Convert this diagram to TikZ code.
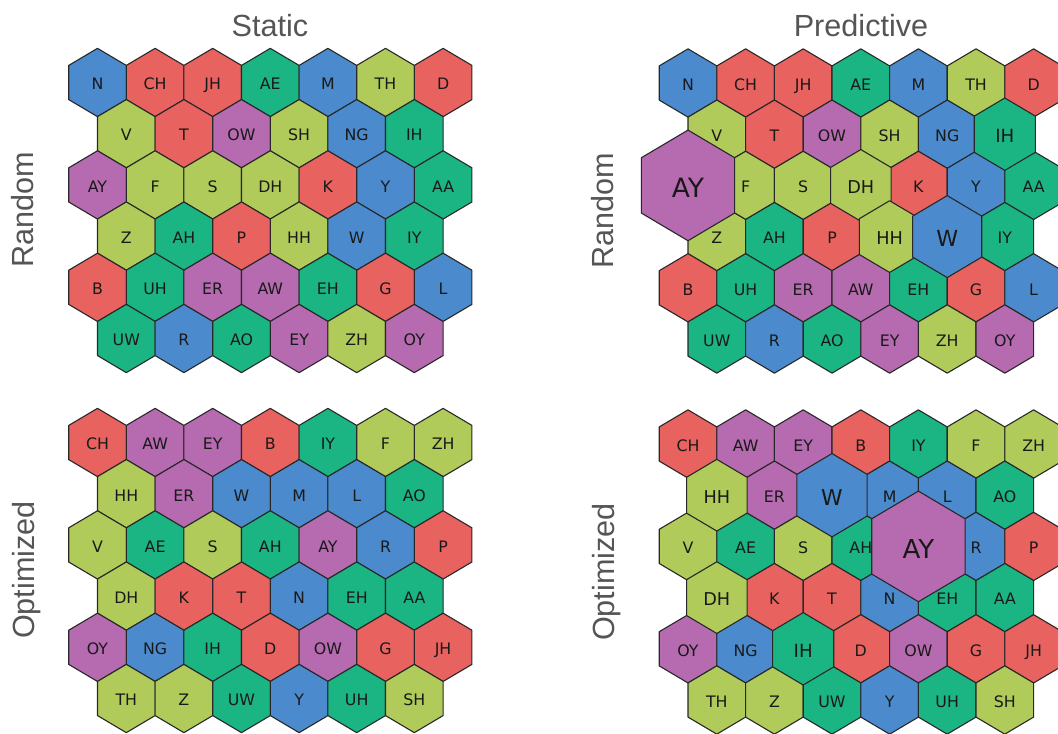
\documentclass[tikz,border=0pt]{standalone}
\usepackage{fontspec}
\setmainfont{DejaVu Sans}
\newfontfamily\titlefont{Liberation Sans}

\definecolor{hblue}{RGB}{75,139,205}
\definecolor{hred}{RGB}{232,98,95}
\definecolor{hgreen}{RGB}{27,181,132}
\definecolor{hlime}{RGB}{177,203,90}
\definecolor{hpurple}{RGB}{182,107,176}
\definecolor{edge}{RGB}{40,40,40}
\definecolor{titlegray}{RGB}{85,85,85}

% one colour per phoneme
\colorlet{cN}{hblue}\colorlet{cM}{hblue}\colorlet{cNG}{hblue}\colorlet{cY}{hblue}
\colorlet{cW}{hblue}\colorlet{cL}{hblue}\colorlet{cR}{hblue}
\colorlet{cCH}{hred}\colorlet{cJH}{hred}\colorlet{cD}{hred}\colorlet{cT}{hred}
\colorlet{cK}{hred}\colorlet{cP}{hred}\colorlet{cB}{hred}\colorlet{cG}{hred}
\colorlet{cAE}{hgreen}\colorlet{cIH}{hgreen}\colorlet{cAA}{hgreen}\colorlet{cAH}{hgreen}
\colorlet{cIY}{hgreen}\colorlet{cUH}{hgreen}\colorlet{cEH}{hgreen}\colorlet{cUW}{hgreen}
\colorlet{cAO}{hgreen}
\colorlet{cTH}{hlime}\colorlet{cV}{hlime}\colorlet{cSH}{hlime}\colorlet{cF}{hlime}
\colorlet{cS}{hlime}\colorlet{cDH}{hlime}\colorlet{cZ}{hlime}\colorlet{cHH}{hlime}
\colorlet{cZH}{hlime}
\colorlet{cOW}{hpurple}\colorlet{cAY}{hpurple}\colorlet{cER}{hpurple}
\colorlet{cAW}{hpurple}\colorlet{cEY}{hpurple}\colorlet{cOY}{hpurple}

\tikzset{
  cell/.style={draw=edge, line width=0.55pt, line join=round},
  lab/.style={font=\fontsize{7.9}{9}\selectfont, text=black!90, inner sep=0pt,
    text height=0.73em, text depth=0pt},
  heading/.style={font=\titlefont\fontsize{15.3}{18}\selectfont, text=titlegray,
    anchor=base, inner sep=0pt},
}

% grid, phoneme, cell size, text size
\newcommand{\hexcell}[4]{%
  \draw[cell, fill=c#2, shift={(#1-#2-c)}, scale=#3]
    (0,-34.15) -- (28.8,-17.08) -- (28.8,17.08) -- (0,34.15)
    -- (-28.8,17.08) -- (-28.8,-17.08) -- cycle;
  \node[lab, scale=#4] (#1-#2) at (#1-#2-c) {#2};
}

% cells that are drawn later, grown
\newcommand{\markbig}[2]{\expandafter\def\csname big-#1-#2\endcsname{1}}
\markbig{pr}{DH}\markbig{pr}{HH}\markbig{pr}{IH}\markbig{pr}{W}\markbig{pr}{AY}
\markbig{po}{DH}\markbig{po}{HH}\markbig{po}{IH}\markbig{po}{W}\markbig{po}{AY}

% grid, origin x, origin y, rows
\newcommand{\hexgrid}[4]{%
  \foreach \row [count=\r from 0] in #4 {
    \foreach \ph [count=\c from 0] in \row {
      \pgfmathsetmacro{\cx}{#2 + 57.6*\c + 28.8*mod(\r,2)}
      \pgfmathsetmacro{\cy}{#3 + 51.2*\r}
      \coordinate (#1-\ph-c) at (\cx,\cy);
      \ifcsname big-#1-\ph\endcsname\else
        \hexcell{#1}{\ph}{1}{1}
      \fi
    }
  }
}

\newcommand{\randomrows}{{N,CH,JH,AE,M,TH,D},{V,T,OW,SH,NG,IH},{AY,F,S,DH,K,Y,AA},%
  {Z,AH,P,HH,W,IY},{B,UH,ER,AW,EH,G,L},{UW,R,AO,EY,ZH,OY}}
\newcommand{\optrows}{{CH,AW,EY,B,IY,F,ZH},{HH,ER,W,M,L,AO},{V,AE,S,AH,AY,R,P},%
  {DH,K,T,N,EH,AA},{OY,NG,IH,D,OW,G,JH},{TH,Z,UW,Y,UH,SH}}

\begin{document}
\begin{tikzpicture}[x=0.5pt, y=-0.5pt]
  \useasboundingbox (0,0) rectangle (1058,733);
  \clip (0,0) rectangle (1058,733);

  \node[heading] (static) at (270,37) {Static};
  \node[heading] (predictive) at (861,37) {Predictive};
  \node[heading, rotate=90] (random-l) at (33.5,210) {Random};
  \node[heading, rotate=90] (optimized-l) at (34.5,570) {Optimized};
  \node[heading, rotate=90] (random-r) at (613.5,211) {Random};
  \node[heading, rotate=90] (optimized-r) at (614.5,572) {Optimized};

  \hexgrid{sr}{97.5}{82.5}{\randomrows}
  \hexgrid{so}{97.5}{442.5}{\optrows}
  \hexgrid{pr}{688}{83}{\randomrows}
  \hexgrid{po}{688}{444}{\optrows}

  % grown cells, smallest first
  \hexcell{pr}{DH}{1.05}{1.12}
  \hexcell{pr}{HH}{1.05}{1.12}
  \hexcell{pr}{IH}{1.06}{1.15}
  \hexcell{pr}{W}{1.2}{1.4}
  \hexcell{pr}{AY}{1.62}{1.68}

  \hexcell{po}{HH}{1.05}{1.12}
  \hexcell{po}{DH}{1.05}{1.12}
  \hexcell{po}{IH}{1.06}{1.15}
  \hexcell{po}{W}{1.22}{1.38}
  \hexcell{po}{AY}{1.62}{1.65}
\end{tikzpicture}
\end{document}
